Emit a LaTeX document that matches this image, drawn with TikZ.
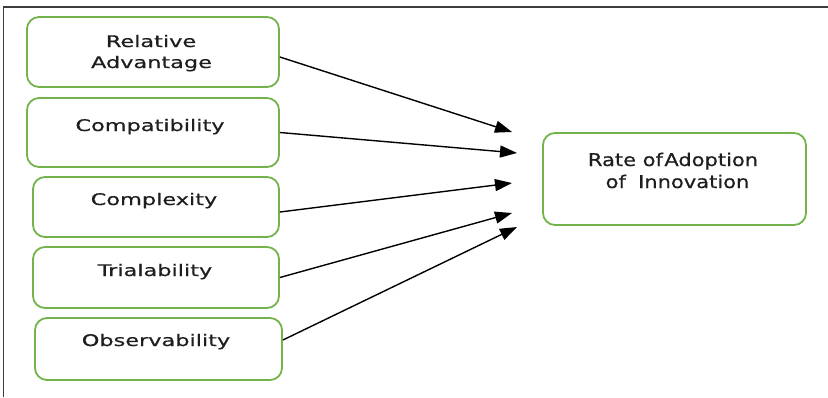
\documentclass[tikz,border=0pt]{standalone}
\usepackage{fontspec}
\setmainfont{DejaVu Sans}[FakeStretch=1.4,FakeBold=0.5]
\newfontfamily\resultfont{DejaVu Sans}[FakeStretch=1.2,FakeBold=0.5]
\usetikzlibrary{arrows.meta}
\definecolor{boxgreen}{HTML}{74B34C}
\definecolor{inkgray}{HTML}{1E1E1E}
\definecolor{framegray}{HTML}{3C3C3C}
\begin{document}
\begin{tikzpicture}[x=1pt,y=-1pt,
  box/.style 2 args={draw=boxgreen, line width=1.8pt, rounded corners=12pt,
    inner sep=0pt, minimum width=#1pt, minimum height=#2pt},
  lbl/.style={inner sep=0pt, anchor=base, text=inkgray,
    font=\fontsize{16}{19}\selectfont},
  rlbl/.style={inner sep=0pt, anchor=base, text=inkgray,
    font=\resultfont\fontsize{17.5}{21}\selectfont},
  link/.style={draw=black, line width=1.4pt,
    -{Triangle[length=17pt,width=12pt]}}]

\useasboundingbox (0,0) rectangle (828,397);

% outer frame (top and left edges)
\draw[framegray, line width=1.6pt] (3.5,397) -- (3.5,7) -- (828,7);

% innovation attributes
\node[box={252}{70}] (b1) at (153,52) {};
\node[box={252}{69}] (b2) at (153,132.5) {};
\node[box={246}{60}] (b3) at (156,207) {};
\node[box={246}{61}] (b4) at (156,277.5) {};
\node[box={247}{62}] (b5) at (158.5,349) {};

\node[lbl] (t1a) at (151,47) {Relative};
\node[lbl] (t1b) at (151.5,68) {Advantage};
\node[lbl] (t2) at (150,131) {Compatibility};
\node[lbl] (t3) at (154,205) {Complexity};
\node[lbl] (t4) at (155,276) {Trialability};
\node[lbl] (t5) at (156,346) {Observability};

% outcome
\node[box={263}{92}] (r) at (674.5,179) {};
\node[rlbl] (ra) at (673,166) {Rate of\hspace{0.08em}Adoption};
\node[rlbl] (rb) at (677.5,188) {of\hspace{0.7em}Innovation};

% arrow ends
\coordinate (e1) at (512,132);
\coordinate (e2) at (517,153);
\coordinate (e3) at (512,183);
\coordinate (e4) at (512,213);
\coordinate (e5) at (517,227);

\draw[link] ([yshift=-5pt]b1.east) -- (e1);
\draw[link] (b2.east) -- (e2);
\draw[link] ([yshift=-5pt]b3.east) -- (e3);
\draw[link] (b4.east) -- (e4);
\draw[link] ([yshift=9pt]b5.east) -- (e5);
\end{tikzpicture}
\end{document}
